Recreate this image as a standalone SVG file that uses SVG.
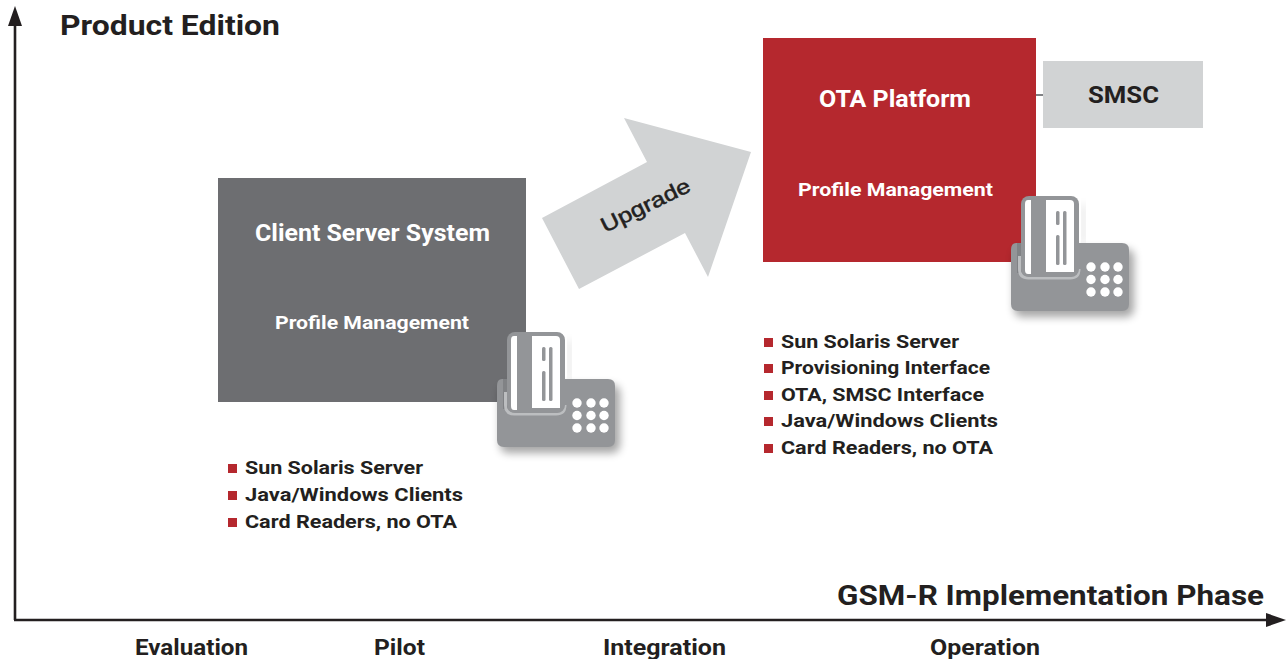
<svg xmlns="http://www.w3.org/2000/svg" width="1287" height="659" viewBox="0 0 1287 659">
<style>
text{font-family:"Roboto","Liberation Sans",sans-serif;font-weight:700;fill:#231f20}
.w{fill:#fff}
.axis{stroke:#231f20;stroke-width:2.6;fill:none}
.b{fill:#b5282e}
</style>
<defs>
<filter id="sh" x="-20%" y="-20%" width="140%" height="140%"><feGaussianBlur stdDeviation="4"/></filter>
<g id="reader">
<rect x="500" y="385" width="120" height="68" rx="8" fill="#000" opacity=".35" filter="url(#sh)"/>
<rect x="568" y="340" width="3" height="40" fill="#000" opacity=".18" filter="url(#sh)"/>
<path d="M497 386q0-7 5-7h3v0h103q7 0 7 7v54q0 7-7 7h-104q-7 0-7-7z" fill="#939598"/>
<rect x="503" y="379" width="6" height="30" fill="#808285"/>
<path d="M505.500 392V405q0 9 9 9H556q9 0 9-9" fill="none" stroke="#bcbec0" stroke-width="3"/>
<rect x="507" y="332" width="58" height="81" rx="8" fill="#939598"/>
<path d="M517 336h-3q-3 0-3 4v66q0 4 3 4h3z" fill="#fff"/>
<path d="M532 336h24q4 0 4 4v68h-28z" fill="#fff"/>
<g fill="#939598"><rect x="542" y="347" width="3.500" height="14" rx="1.500"/><rect x="542" y="371" width="3.500" height="30" rx="1.500"/><rect x="549" y="347" width="3.500" height="54" rx="1.500"/></g>
<g fill="#fff"><circle cx="577" cy="403" r="4.700"/><circle cx="591" cy="403" r="4.700"/><circle cx="604" cy="403" r="4.700"/><circle cx="577" cy="415.500" r="4.700"/><circle cx="591" cy="415.500" r="4.700"/><circle cx="604" cy="415.500" r="4.700"/><circle cx="577" cy="428" r="4.700"/><circle cx="591" cy="428" r="4.700"/><circle cx="604" cy="428" r="4.700"/></g>
</g>
</defs>
<g id="connectors">
<path class="axis" d="M15 620V20"/><path d="M15 6l-7 20h14z" fill="#231f20"/>
<path class="axis" d="M14 620H1270"/><path d="M1286 620l-20-7v14z" fill="#231f20"/>
<path d="M1036 95H1043" stroke="#808285" stroke-width="2"/>
</g>
<g id="axis-labels">
<text x="60" y="35" font-size="27" textLength="220" lengthAdjust="spacingAndGlyphs">Product Edition</text>
<text x="837" y="605" font-size="27" textLength="427" lengthAdjust="spacingAndGlyphs">GSM-R Implementation Phase</text>
<text x="135" y="655" font-size="22" textLength="113" lengthAdjust="spacingAndGlyphs">Evaluation</text>
<text x="374" y="655" font-size="22" textLength="51" lengthAdjust="spacingAndGlyphs">Pilot</text>
<text x="603" y="655" font-size="22" textLength="123" lengthAdjust="spacingAndGlyphs">Integration</text>
<text x="930" y="655" font-size="22" textLength="110" lengthAdjust="spacingAndGlyphs">Operation</text>
</g>
<g id="client-server">
<rect x="218" y="178" width="308" height="224" fill="#6d6e71"/>
<text x="255" y="241" font-size="23" class="w" textLength="235" lengthAdjust="spacingAndGlyphs">Client Server System</text>
<text x="275" y="329" font-size="18.500" class="w" textLength="194" lengthAdjust="spacingAndGlyphs">Profile Management</text>
</g>
<g id="reader-1"><use href="#reader"/></g>
<g id="list-1">
<rect class="b" x="228" y="464" width="9" height="9"/><text x="245" y="474" font-size="18" textLength="178" lengthAdjust="spacingAndGlyphs">Sun Solaris Server</text>
<rect class="b" x="228" y="491" width="9" height="9"/><text x="245" y="501" font-size="18" textLength="218" lengthAdjust="spacingAndGlyphs">Java/Windows Clients</text>
<rect class="b" x="228" y="518" width="9" height="9"/><text x="245" y="528" font-size="18" textLength="212" lengthAdjust="spacingAndGlyphs">Card Readers, no OTA</text>
</g>
<g id="upgrade">
<polygon points="542,218 647,162 624,118 751,152 708,277 685,233 579,289" fill="#d1d3d4"/>
<text transform="translate(605 233) rotate(-26)" font-size="21" style="font-family:'Liberation Sans',sans-serif;font-weight:400;stroke:#231f20;stroke-width:.5" textLength="97" lengthAdjust="spacingAndGlyphs">Upgrade</text>
</g>
<g id="ota">
<rect x="763" y="38" width="273" height="224" fill="#b5282e"/>
<text x="819" y="107" font-size="23" class="w" textLength="152" lengthAdjust="spacingAndGlyphs">OTA Platform</text>
<text x="798" y="196" font-size="18.500" class="w" textLength="195" lengthAdjust="spacingAndGlyphs">Profile Management</text>
</g>
<g id="reader-2"><use href="#reader" x="514" y="-136"/></g>
<g id="smsc">
<rect x="1043" y="61" width="160" height="67" fill="#d1d3d4"/>
<text x="1088" y="103" font-size="23" textLength="71" lengthAdjust="spacingAndGlyphs">SMSC</text>
</g>
<g id="list-2">
<rect class="b" x="764" y="338" width="9" height="9"/><text x="781" y="348" font-size="18" textLength="178" lengthAdjust="spacingAndGlyphs">Sun Solaris Server</text>
<rect class="b" x="764" y="364" width="9" height="9"/><text x="781" y="374" font-size="18" textLength="209" lengthAdjust="spacingAndGlyphs">Provisioning Interface</text>
<rect class="b" x="764" y="391" width="9" height="9"/><text x="781" y="401" font-size="18" textLength="203" lengthAdjust="spacingAndGlyphs">OTA, SMSC Interface</text>
<rect class="b" x="764" y="417" width="9" height="9"/><text x="781" y="427" font-size="18" textLength="217" lengthAdjust="spacingAndGlyphs">Java/Windows Clients</text>
<rect class="b" x="764" y="444" width="9" height="9"/><text x="781" y="454" font-size="18" textLength="212" lengthAdjust="spacingAndGlyphs">Card Readers, no OTA</text>
</g>
</svg>
